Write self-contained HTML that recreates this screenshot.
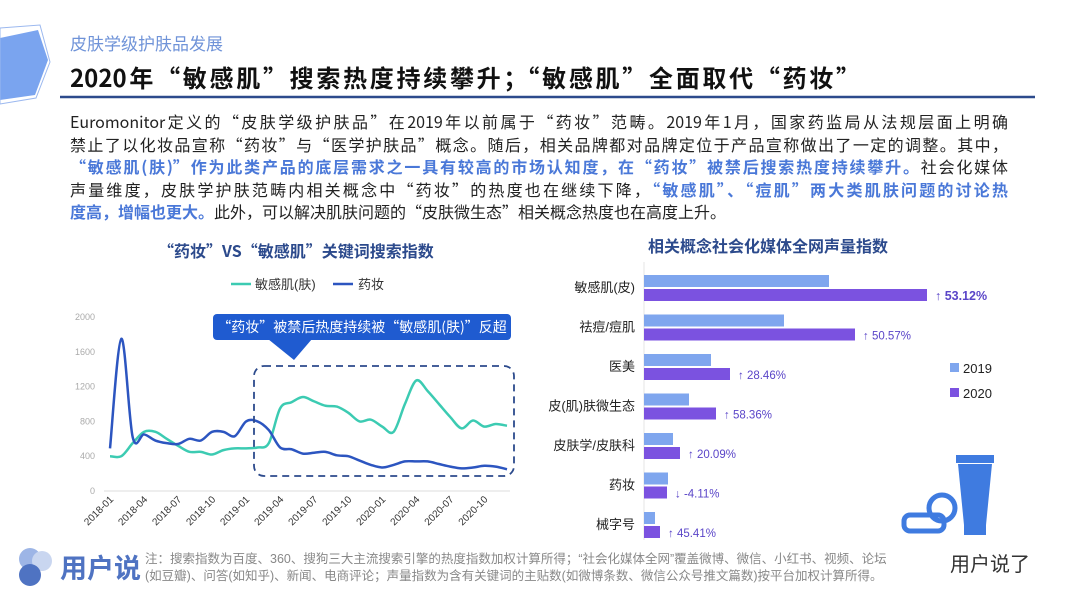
<!DOCTYPE html>
<html><head><meta charset="utf-8">
<style>
body{margin:0;width:1080px;height:607px;overflow:hidden;background:#fff;font-family:"Liberation Sans","Noto Sans CJK SC",sans-serif;position:relative}
.abs{position:absolute}
.ln{position:absolute;left:70px;width:938px;white-space:nowrap;font-size:16px;color:#222;font-family:"Noto Sans CJK SC",sans-serif;text-align:justify;text-align-last:justify;line-height:22px}
.hl{color:#4a78d8;font-weight:bold}
</style></head><body>
<svg class="abs" style="left:0;top:0" width="1080" height="607">
<polygon points="0,38 38,30 48,60 35,95 0,100" fill="#7aa4ef"/>
<polygon points="0,28 40,25 50,62 36,98 0,104" fill="none" stroke="#9bb8ef" stroke-width="1"/>
<line x1="60" y1="97" x2="1035" y2="97" stroke="#2c4a8c" stroke-width="2.5"/>
</svg>
<div class="abs" style="left:70px;top:30px;font-size:17px;color:#6f93d8;font-family:'Noto Sans CJK SC',sans-serif">皮肤学级护肤品发展</div>
<div class="abs" style="left:70px;top:59px;width:790px;font-size:24px;font-weight:bold;color:#111;white-space:nowrap;font-family:'Noto Sans CJK SC',sans-serif;text-align:justify;text-align-last:justify">2020年“敏感肌”搜索热度持续攀升；“敏感肌”全面取代“药妆”</div>
<div class="ln" style="top:110px">Euromonitor定义的“皮肤学级护肤品”在2019年以前属于“药妆”范畴。2019年1月，国家药监局从法规层面上明确</div>
<div class="ln" style="top:133px">禁止了以化妆品宣称“药妆”与“医学护肤品”概念。随后，相关品牌都对品牌定位于产品宣称做出了一定的调整。其中，</div>
<div class="ln" style="top:155px"><span class="hl">“敏感肌(肤)”作为此类产品的底层需求之一具有较高的市场认知度，在“药妆”被禁后搜索热度持续攀升。</span>社会化媒体</div>
<div class="ln" style="top:178px">声量维度，皮肤学护肤范畴内相关概念中“药妆”的热度也在继续下降，<span class="hl">“敏感肌”、“痘肌”两大类肌肤问题的讨论热</span></div>
<div class="ln" style="top:200px;width:auto;text-align:left;text-align-last:auto"><span class="hl">度高，增幅也更大。</span>此外，可以解决肌肤问题的“皮肤微生态”相关概念热度也在高度上升。</div>

<div class="abs" style="left:158px;top:238px;font-size:16px;font-weight:bold;color:#2c4a8c;font-family:'Noto Sans CJK SC',sans-serif">“药妆”VS“敏感肌”关键词搜索指数</div>
<div class="abs" style="left:648px;top:233px;font-size:16px;font-weight:bold;color:#2c4a8c;font-family:'Noto Sans CJK SC',sans-serif">相关概念社会化媒体全网声量指数</div>

<svg id="lc" class="abs" style="left:0;top:0" width="540" height="560"></svg>
<svg id="bc" class="abs" style="left:540px;top:0" width="540" height="560"></svg>

<svg class="abs" style="left:14px;top:545px" width="45" height="45">
<circle cx="16" cy="14" r="11" fill="#9db5e6"/><circle cx="28" cy="16" r="10" fill="#c9d6f0"/><circle cx="16" cy="30" r="11" fill="#4f73c2"/>
</svg>
<div class="abs" style="left:60px;top:547px;font-size:27px;font-weight:bold;color:#4f73c2">用户说</div>
<div class="abs" style="left:145px;top:551px;font-size:12.5px;color:#888;line-height:17px;white-space:nowrap">注：搜索指数为百度、360、搜狗三大主流搜索引擎的热度指数加权计算所得；“社会化媒体全网”覆盖微博、微信、小红书、视频、论坛<br>(如豆瓣)、问答(如知乎)、新闻、电商评论；声量指数为含有关键词的主贴数(如微博条数、微信公众号推文篇数)按平台加权计算所得。</div>
<div class="abs" style="left:950px;top:548px;font-size:20px;color:#333">用户说了</div>

<script>
const NS="http://www.w3.org/2000/svg";
function mk(p,t,a){const e=document.createElementNS(NS,t);for(const k in a)e.setAttribute(k,a[k]);p.appendChild(e);return e;}
const yTicks=[0,400,800,1200,1600,2000];
const xTickLabels=["2018-01","2018-04","2018-07","2018-10","2019-01","2019-04","2019-07","2019-10","2020-01","2020-04","2020-07","2020-10"];
const sensitive=[400,400,550,680,680,600,520,450,450,420,470,490,490,500,550,950,1020,1080,1030,980,970,900,800,820,740,680,1000,1270,1150,1000,850,720,810,740,770,750,870].slice(0,36);
const cosmeceutical=[490,1750,620,650,580,550,540,600,580,680,680,630,800,800,700,500,480,430,440,450,410,400,350,300,270,300,340,340,340,310,280,260,270,290,280,250];
const lc=document.getElementById('lc');
const X=i=>110+i*(397/35), Y=v=>491-v*(174/2000);
yTicks.forEach(t=>{const tx=mk(lc,'text',{x:95,y:Y(t)+3,'font-size':9,fill:'#aaa','text-anchor':'end'});tx.textContent=t;

});
mk(lc,'line',{x1:104,y1:491,x2:510,y2:491,stroke:'#ddd'});
xTickLabels.forEach((l,k)=>{const x=X(k*3);const tx=mk(lc,'text',{x:x+4,y:500,'font-size':10,fill:'#333','text-anchor':'end',transform:`rotate(-45 ${x+4} 500)`});tx.textContent=l;

});
function smooth(arr){const p=arr.map((v,i)=>[X(i),Y(v)]);let d='M'+p[0][0]+','+p[0][1];
for(let i=0;i<p.length-1;i++){const p0=p[i-1]||p[i],p1=p[i],p2=p[i+1],p3=p[i+2]||p2;
d+=` C${p1[0]+(p2[0]-p0[0])/6},${p1[1]+(p2[1]-p0[1])/6} ${p2[0]-(p3[0]-p1[0])/6},${p2[1]-(p3[1]-p1[1])/6} ${p2[0]},${p2[1]}`;}return d;}
const s1=mk(lc,'path',{d:smooth(sensitive),fill:'none',stroke:'#3ccbb2','stroke-width':2.5});


const s2=mk(lc,'path',{d:smooth(cosmeceutical),fill:'none',stroke:'#2c55c0','stroke-width':2.5});


const bx=mk(lc,'rect',{x:254,y:366,width:260,height:110,rx:10,fill:'none',stroke:'#2c4a8c','stroke-width':1.8,'stroke-dasharray':'7,5'});


const cb=mk(lc,'rect',{x:213,y:314,width:298,height:26,rx:4,fill:'#1f5bd0'});


mk(lc,'polygon',{points:'268,339 312,339 294,360',fill:'#1f5bd0'});
const ct=mk(lc,'text',{x:362,y:332,'font-size':14,fill:'#fff','text-anchor':'middle','font-family':'Noto Sans CJK SC'});ct.textContent='“药妆”被禁后热度持续被“敏感肌(肤)”反超';
mk(lc,'line',{x1:231,y1:284,x2:251,y2:284,stroke:'#3ccbb2','stroke-width':2.5});
let lt=mk(lc,'text',{x:255,y:289,'font-size':13,fill:'#333'});lt.textContent='敏感肌(肤)';


mk(lc,'line',{x1:333,y1:284,x2:353,y2:284,stroke:'#2c55c0','stroke-width':2.5});
lt=mk(lc,'text',{x:358,y:289,'font-size':13,fill:'#333'});lt.textContent='药妆';



const cats=["敏感肌(皮)","祛痘/痘肌","医美","皮(肌)肤微生态","皮肤学/皮肤科","药妆","械字号"];
const v2019=[185,140,67,45,29,24,11];
const v2020=[283,211,86,72,36,23,16];
const growth=["↑ 53.12%","↑ 50.57%","↑ 28.46%","↑ 58.36%","↑ 20.09%","↓ -4.11%","↑ 45.41%"];
const bc=document.getElementById('bc');
const BX=v=>104+v*1.0, rowY=i=>275+i*39.5;
mk(bc,'line',{x1:104,y1:262,x2:104,y2:540,stroke:'#e6e6e6'});
cats.forEach((c,i)=>{const y=rowY(i);
const t=mk(bc,'text',{x:95,y:y+17,'font-size':13,fill:'#222','text-anchor':'end'});t.textContent=c;


const a=mk(bc,'rect',{x:BX(0),y:y,width:BX(v2019[i])-BX(0),height:12,fill:'#7fa6ee'});


const b=mk(bc,'rect',{x:BX(0),y:y+14,width:BX(v2020[i])-BX(0),height:12,fill:'#7b52e0'});


const g=mk(bc,'text',{x:BX(v2020[i])+8,y:y+25,'font-size':i==0?12.5:11.5,'font-weight':i==0?'bold':'normal',fill:'#5a45c8'});g.textContent=growth[i];


});
mk(bc,'rect',{x:410,y:363,width:9,height:9,fill:'#7fa6ee'});
let l1=mk(bc,'text',{x:423,y:373,'font-size':13,fill:'#222'});l1.textContent='2019';


mk(bc,'rect',{x:410,y:388,width:9,height:9,fill:'#7b52e0'});
let l2=mk(bc,'text',{x:423,y:398,'font-size':13,fill:'#222'});l2.textContent='2020';


mk(bc,'rect',{x:416,y:455,width:38,height:8,fill:'#3f7be0'});
mk(bc,'path',{d:'M418,464 L452,464 L446,525 L424,525 Z',fill:'#3f7be0'});
mk(bc,'rect',{x:424,y:525,width:22,height:10,fill:'#3f7be0'});
mk(bc,'circle',{cx:402,cy:508,r:13,fill:'none',stroke:'#3f7be0','stroke-width':5});
mk(bc,'rect',{x:364,y:515,width:40,height:16,rx:6,fill:'none',stroke:'#3f7be0','stroke-width':5});
</script>
</body></html>
